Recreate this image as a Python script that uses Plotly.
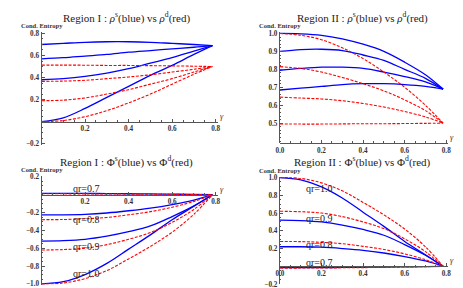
import plotly.graph_objects as go

# ---------------- data ----------------
gamma = [0, 0.1, 0.2, 0.3, 0.4, 0.5, 0.6, 0.7, 0.785]

# Panel 1: Region I, rho
p1_blue = [
    [0.70, 0.71, 0.72, 0.725, 0.725, 0.72, 0.71, 0.70, 0.69],
    [0.57, 0.58, 0.595, 0.61, 0.63, 0.645, 0.66, 0.675, 0.69],
    [0.38, 0.39, 0.41, 0.44, 0.48, 0.53, 0.58, 0.64, 0.69],
    [0.0, 0.035, 0.12, 0.22, 0.32, 0.42, 0.51, 0.61, 0.69],
]
p1_red = [
    [0.513, 0.513, 0.512, 0.51, 0.51, 0.508, 0.506, 0.503, 0.5],
    [0.365, 0.368, 0.375, 0.39, 0.405, 0.425, 0.45, 0.475, 0.5],
    [0.19, 0.195, 0.215, 0.25, 0.29, 0.34, 0.39, 0.45, 0.5],
    [0.0, 0.01, 0.045, 0.10, 0.17, 0.25, 0.34, 0.43, 0.5],
]
# Panel 2: Region II, rho
p2_blue = [
    [1.0, 0.998, 0.99, 0.97, 0.94, 0.90, 0.84, 0.77, 0.69],
    [0.90, 0.91, 0.912, 0.905, 0.88, 0.85, 0.80, 0.75, 0.69],
    [0.795, 0.805, 0.812, 0.812, 0.805, 0.785, 0.76, 0.73, 0.69],
    [0.685, 0.695, 0.705, 0.715, 0.72, 0.72, 0.715, 0.705, 0.69],
]
p2_red = [
    [1.0, 0.99, 0.965, 0.92, 0.86, 0.785, 0.70, 0.60, 0.5],
    [0.815, 0.805, 0.785, 0.755, 0.72, 0.68, 0.63, 0.57, 0.5],
    [0.645, 0.64, 0.635, 0.625, 0.61, 0.59, 0.565, 0.535, 0.5],
    [0.495, 0.495, 0.495, 0.496, 0.497, 0.497, 0.498, 0.499, 0.5],
]
# Panel 3: Region I, Phi  (qr = 0.7, 0.8, 0.9, 1.0)
p3_blue = [
    [0.015, 0.015, 0.014, 0.013, 0.011, 0.009, 0.006, 0.003, 0.0],
    [-0.225, -0.225, -0.22, -0.205, -0.18, -0.15, -0.11, -0.06, 0.0],
    [-0.52, -0.515, -0.5, -0.465, -0.415, -0.35, -0.245, -0.125, 0.0],
    [-1.0, -0.975, -0.895, -0.77, -0.61, -0.45, -0.28, -0.13, 0.0],
]
p3_red = [
    [0.01, 0.01, 0.009, 0.008, 0.007, 0.006, 0.004, 0.002, 0.0],
    [-0.28, -0.278, -0.27, -0.255, -0.225, -0.19, -0.14, -0.075, 0.0],
    [-0.62, -0.615, -0.6, -0.56, -0.5, -0.425, -0.31, -0.165, 0.0],
    [-1.0, -0.99, -0.94, -0.85, -0.72, -0.58, -0.42, -0.22, 0.0],
]
# Panel 4: Region II, Phi
p4_blue = [
    [-0.015, -0.015, -0.014, -0.013, -0.011, -0.009, -0.006, -0.003, 0.0],
    [0.22, 0.22, 0.215, 0.2, 0.18, 0.15, 0.11, 0.06, 0.0],
    [0.52, 0.515, 0.5, 0.465, 0.415, 0.35, 0.245, 0.125, 0.0],
    [1.0, 0.975, 0.895, 0.77, 0.61, 0.45, 0.28, 0.13, 0.0],
]
p4_red = [
    [-0.02, -0.02, -0.019, -0.017, -0.015, -0.012, -0.008, -0.004, 0.0],
    [0.28, 0.278, 0.27, 0.255, 0.225, 0.19, 0.14, 0.075, 0.0],
    [0.62, 0.615, 0.6, 0.56, 0.5, 0.425, 0.31, 0.165, 0.0],
    [1.0, 0.99, 0.94, 0.85, 0.72, 0.58, 0.42, 0.22, 0.0],
]

titles = [
    "Region I : <i>ρ</i><sup>s</sup>(blue) vs <i>ρ</i><sup>d</sup>(red)",
    "Region II : <i>ρ</i><sup>s</sup>(blue) vs <i>ρ</i><sup>d</sup>(red)",
    "Region I : Φ<sup>s</sup>(blue) vs Φ<sup>d</sup>(red)",
    "Region II : Φ<sup>s</sup>(blue) vs Φ<sup>d</sup>(red)",
]
qr_labels = ["qr=0.7", "qr=0.8", "qr=0.9", "qr=1.0"]
qr_pos3 = [(0.204, 0.072), (0.204, -0.28), (0.204, -0.584), (0.204, -0.883)]
qr_pos4 = [(0.19, 0.046), (0.19, 0.244), (0.19, 0.543), (0.19, 0.88)]

x_ticks_a = [0.2, 0.4, 0.6, 0.8]
x_ticks_b = [0.0, 0.2, 0.4, 0.6, 0.8]
y_ticks1 = [-0.2, 0.2, 0.4, 0.6, 0.8]
y_ticks2 = [0.5, 0.6, 0.7, 0.8, 0.9, 1.0]
y_ticks3 = [-1.0, -0.8, -0.6, -0.4, -0.2, 0.2]
y_ticks4 = [-0.2, 0.2, 0.4, 0.6, 0.8, 1.0]

# ---------------- layout geometry ----------------
W, H = 463, 288


def px(X):
    return X / W


def py(Y):
    return 1 - Y / H


panels = [
    dict(blue=p1_blue, red=p1_red, xd=(30, 209), yd=(137.1, 21.9), yr=(-0.21, 0.81),
         xt=x_ticks_a, yt=y_ticks1, ydt=0.05, title_xy=(116, 7)),
    dict(blue=p2_blue, red=p2_red, xd=(272, 443), yd=(135.2, 21.2), yr=(0.39, 1.01),
         xt=x_ticks_b, yt=y_ticks2, ydt=0.02, title_xy=(356, 7)),
    dict(blue=p3_blue, red=p3_red, xd=(30, 209), yd=(280.6, 169.1), yr=(-1.01, 0.21),
         xt=x_ticks_a, yt=y_ticks3, ydt=0.05, title_xy=(116, 154)),
    dict(blue=p4_blue, red=p4_red, xd=(272, 443), yd=(280.3, 169.8), yr=(-0.205, 1.01),
         xt=x_ticks_b, yt=y_ticks4, ydt=0.05, title_xy=(356, 154)),
]

SERIF = "Liberation Serif"
AXC = "#555555"
tickfont = dict(family=SERIF, size=7.2, color="#333333", weight="bold")

fig = go.Figure()
layout = dict(width=W, height=H, margin=dict(l=0, r=0, t=0, b=0),
              paper_bgcolor="white", plot_bgcolor="white", showlegend=False)
annotations = []

xr = (0, 0.81)
for i, p in enumerate(panels):
    n = i + 1
    xa = "x" if n == 1 else f"x{n}"
    ya = "y" if n == 1 else f"y{n}"
    for ys in p["blue"]:
        fig.add_trace(go.Scatter(x=gamma, y=ys, mode="lines", xaxis=xa, yaxis=ya,
                                 line=dict(color="#0000ff", width=1.3, shape="spline")))
    for ys in p["red"]:
        fig.add_trace(go.Scatter(x=gamma, y=ys, mode="lines", xaxis=xa, yaxis=ya,
                                 line=dict(color="#ff0000", width=1.1, dash="3px,1.5px", shape="spline")))
    ydom = (py(p["yd"][0]), py(p["yd"][1]))
    xdom = (px(p["xd"][0]), px(p["xd"][1]))
    y0, y1 = p["yr"]
    ycross = max(0.0, y0)
    pos = ydom[0] + (ycross - y0) / (y1 - y0) * (ydom[1] - ydom[0])
    layout[f"xaxis{'' if n == 1 else n}"] = dict(
        domain=list(xdom), range=list(xr), anchor="free", position=pos,
        showline=True, linecolor=AXC, linewidth=1, showgrid=False, zeroline=False,
        tickmode="array", tickvals=p["xt"], ticktext=[f"{v:.1f}" for v in p["xt"]],
        ticks="inside", ticklen=3, tickcolor=AXC, tickfont=tickfont,
        minor=dict(ticks="inside", ticklen=1.5, dtick=0.05, tick0=0, tickcolor=AXC, showgrid=False),
    )
    layout[f"yaxis{'' if n == 1 else n}"] = dict(
        domain=list(ydom), range=list(p["yr"]), anchor=xa,
        showline=True, linecolor=AXC, linewidth=1, showgrid=False, zeroline=False,
        tickmode="array", tickvals=p["yt"],
        ticktext=[(f"{v:.1f}".replace("-", "\u2212")) for v in p["yt"]],
        ticks="inside", ticklen=3, tickcolor=AXC, tickfont=tickfont,
        minor=dict(ticks="inside", ticklen=1.5, dtick=p["ydt"], tick0=0, tickcolor=AXC, showgrid=False),
    )
    tx, ty = p["title_xy"]
    annotations.append(dict(x=px(tx), y=py(ty), xref="paper", yref="paper",
                            text=titles[i], showarrow=False, xanchor="center", yanchor="middle",
                            font=dict(family=SERIF, size=11, color="#222222")))
    annotations.append(dict(x=0, y=1, xref=xa, yref=f"{ya} domain", text="Cond. Entropy",
                            showarrow=False, xanchor="center", yanchor="bottom", yshift=1,
                            font=dict(family=SERIF, size=6.5, color="#333333", weight="bold")))
    annotations.append(dict(x=xr[1], y=ycross, xref=xa, yref=ya, text="<i>γ</i>",
                            showarrow=False, xanchor="left", yanchor="bottom", xshift=0, yshift=-1,
                            font=dict(family=SERIF, size=8, color="#333333")))

for (lx, ly), lab in zip(qr_pos3, qr_labels):
    annotations.append(dict(x=lx, y=ly, xref="x3", yref="y3", text=lab, showarrow=False,
                            font=dict(family=SERIF, size=10, color="#222222")))
for (lx, ly), lab in zip(qr_pos4, qr_labels):
    annotations.append(dict(x=lx, y=ly, xref="x4", yref="y4", text=lab, showarrow=False,
                            font=dict(family=SERIF, size=10, color="#222222")))

layout["annotations"] = annotations
fig.update_layout(**layout)
fig.write_html("out.html")
